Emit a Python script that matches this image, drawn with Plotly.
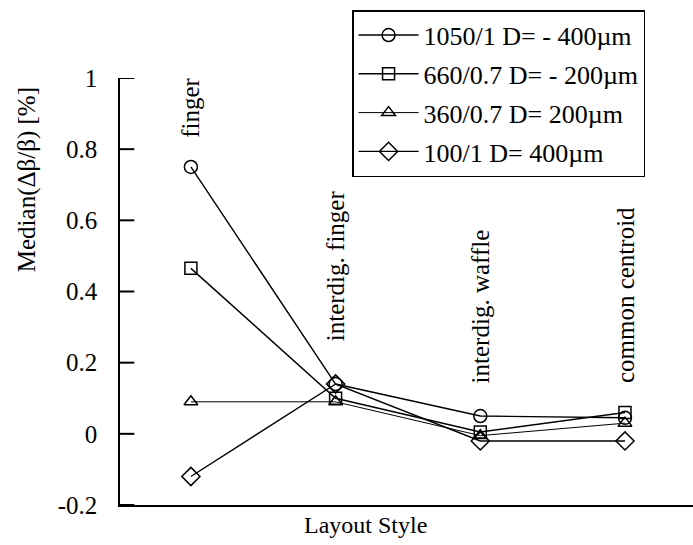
import plotly.graph_objects as go

# Layout styles along the x axis
layout_styles = ["finger", "interdig. finger", "interdig. waffle", "common centroid"]

# Median(Δβ/β) in % for each device
series_names = [
    "1050/1 D= - 400µm",
    "660/0.7 D= - 200µm",
    "360/0.7 D= 200µm",
    "100/1 D= 400µm",
]
median_1050 = [0.75, 0.14, 0.05, 0.045]
median_660 = [0.465, 0.10, 0.005, 0.06]
median_360 = [0.09, 0.09, -0.005, 0.03]
median_100 = [-0.12, 0.14, -0.02, -0.02]

y_ticks = [-0.2, 0, 0.2, 0.4, 0.6, 0.8, 1]
y_tick_text = ["-0.2", "0", "0.2", "0.4", "0.6", "0.8", "1"]

FONT = "Liberation Serif"
x_pos = list(range(len(layout_styles)))

fig = go.Figure()
series = [
    (series_names[0], median_1050, "circle-open", 13, 1.4),
    (series_names[1], median_660, "square-open", 12, 1.4),
    (series_names[2], median_360, "triangle-up-open", 12, 1.0),
    (series_names[3], median_100, "diamond-open", 14, 1.4),
]
for i, (name, vals, sym, msize, lw) in enumerate(series):
    fig.add_trace(go.Scatter(
        x=x_pos, y=vals, name=name, mode="lines+markers",
        legendgroup=f"g{i}",
        line=dict(color="black", width=lw),
        marker=dict(symbol=sym, size=msize, color="black",
                    line=dict(color="black", width=1.5)),
    ))

# Rotated layout-style labels above each category
label_bottoms = [0.826, 0.255, 0.137, 0.137]
for xi, text, yb in zip(x_pos, layout_styles, label_bottoms):
    fig.add_annotation(
        x=xi, y=yb, xref="x", yref="y", text=text, textangle=-90,
        showarrow=False, xanchor="center", yanchor="bottom",
        font=dict(family=FONT, size=25, color="black"),
    )

fig.add_annotation(
    x=-0.163, y=0.762, xref="paper", yref="paper",
    text="Median(Δβ/β) [%]", textangle=-90, showarrow=False,
    xanchor="center", yanchor="middle",
    font=dict(family=FONT, size=25, color="black"),
)
fig.add_annotation(
    x=0.428, y=-0.047, xref="paper", yref="paper",
    text="Layout Style", showarrow=False,
    xanchor="center", yanchor="middle",
    font=dict(family=FONT, size=24, color="black"),
)

# Short tick marks pointing into the plot from the y axis
for tv in y_ticks:
    fig.add_shape(
        type="line", xref="paper", yref="y", layer="above",
        x0=0, x1=0.025, y0=tv, y1=tv,
        line=dict(color="black", width=2),
    )

fig.update_layout(
    template="none",
    width=693, height=545,
    margin=dict(l=120, r=0, t=78, b=40),
    paper_bgcolor="white", plot_bgcolor="white",
    font=dict(family=FONT, size=24, color="black"),
    showlegend=True,
    legend=dict(
        x=0.405, y=1.159, xanchor="left", yanchor="top",
        bordercolor="black", borderwidth=1.5, bgcolor="white",
        font=dict(family=FONT, size=26, color="black"),
        tracegroupgap=2, itemwidth=60,
    ),
)
fig.update_xaxes(
    range=[-0.49, 3.47], showline=True, linecolor="black", linewidth=1.5,
    showticklabels=False, ticks="", showgrid=False, zeroline=False,
)
fig.update_yaxes(
    range=[-0.2, 1], showline=True, linecolor="black", linewidth=1.5,
    tickvals=y_ticks, ticktext=y_tick_text, ticks="",
    ticklabelstandoff=16,
    showgrid=False, zeroline=False,
    tickfont=dict(family=FONT, size=25, color="black"),
)

fig.write_html("out.html")
